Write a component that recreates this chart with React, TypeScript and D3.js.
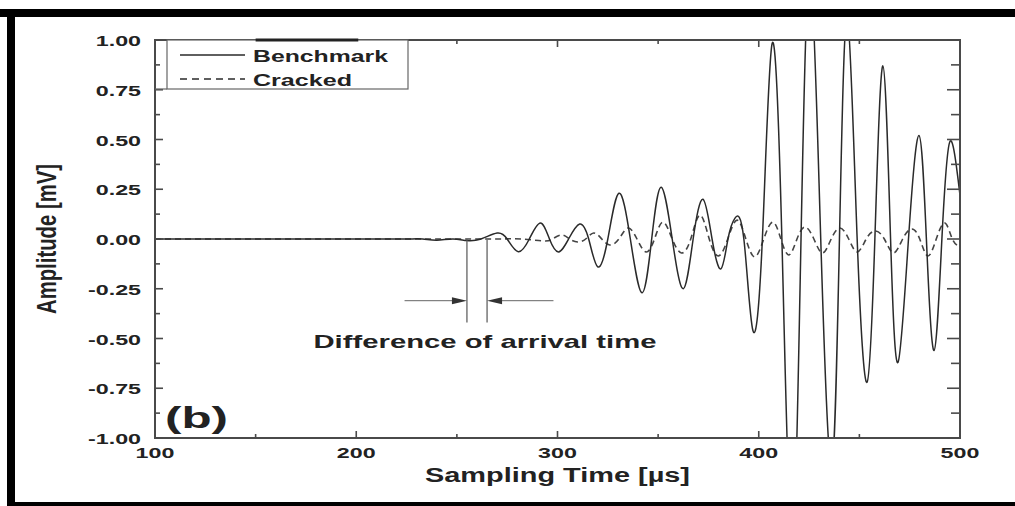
import React, { useEffect, useRef } from 'react'
import * as d3 from 'd3'

// axis ticks
const xTicks = [100, 200, 300, 400, 500]
const xMinor = [150, 250, 350, 450]
const yTicks = [1, 0.75, 0.5, 0.25, 0, -0.25, -0.5, -0.75, -1]
const yLabels = ['1.00', '0.75', '0.50', '0.25', '0.00', '-0.25', '-0.50', '-0.75', '-1.00']
const yMinor = [0.875, 0.625, 0.375, 0.125, -0.125, -0.375, -0.625, -0.875]

// Benchmark signal: extrema and zero crossings (µs, mV)
const benchTime = [100, 130, 160, 190, 210, 225, 233, 240, 248, 255, 262, 270, 275, 280.5, 286, 291.5, 296,
  300.5, 305.5, 311, 315.5, 320, 325, 330.5, 336.2, 342, 346.8, 351.5, 357, 362.5, 367.4, 372.3, 376.8,
  381.2, 384.7, 388.2, 392.6, 397.1, 401.8, 406.6, 411.5, 416.5, 421, 425.5, 430.8, 436.2, 440.1, 444,
  448.9, 453.8, 457.7, 461.7, 465.5, 469.2, 474.4, 479.6, 483.3, 487.1, 491, 495, 500]
const benchAmp = [0, 0, 0, 0, 0, 0, 0, -0.006, 0, -0.008, 0, 0.03, 0, -0.064, 0, 0.08, 0,
  -0.065, 0, 0.075, 0, -0.14, 0, 0.23, 0, -0.27, 0, 0.26, 0, -0.25, 0, 0.2, 0,
  -0.15, 0, 0.105, 0, -0.46, 0, 0.98, 0, -1.55, 0, 1.35, 0, -1.15, 0, 1.12,
  0, -0.72, 0, 0.87, 0, -0.62, 0, 0.52, 0, -0.56, 0, 0.49, 0.22]

// Cracked signal
const crackTime = [100, 130, 160, 190, 220, 250, 270, 282, 293, 297.5, 302, 306, 310, 314, 318, 322, 326,
  330.5, 335, 339.5, 344, 348.2, 352.4, 357, 361.6, 366.2, 370.8, 375.4, 380, 384.6, 389.2, 393.6, 398,
  402.5, 407, 411, 415, 419, 423, 427.4, 431.7, 436, 440.4, 444.7, 449, 453.4, 457.8, 462.4, 467, 471.5,
  476, 480, 484, 488.2, 492.5, 496.2, 500]
const crackAmp = [0, 0, 0, 0, 0, 0, 0, 0, -0.01, 0, 0.02, 0, -0.015, 0, 0.03, 0, -0.03,
  0, 0.055, 0, -0.065, 0, 0.085, 0, -0.07, 0, 0.12, 0, -0.085, 0, 0.095, 0, -0.09,
  0, 0.085, 0, -0.08, 0, 0.06, 0, -0.07, 0, 0.055, 0, -0.065, 0, 0.04, 0, -0.07, 0,
  0.05, 0, -0.085, 0, 0.08, 0, -0.04]

const seriesNames = ['Benchmark', 'Cracked']
const arrivalTimes = [255, 265]
const arrowLevel = -0.31
const markerBottom = -0.42

const W = 1015
const H = 506
const FONT = "'Liberation Sans', Arial, sans-serif"
const INK = '#222'
const AXIS = '#4a4a4a'
const SX = 1.5 // picture is stretched horizontally

export default function App() {
  const ref = useRef<SVGSVGElement>(null)

  useEffect(() => {
    document.body.style.margin = '0'
    const svg = d3.select(ref.current)
    svg.selectAll('*').remove()

    const left = 155, right = 960, top = 40, bottom = 438
    const x = d3.scaleLinear().domain([100, 500]).range([left, right])
    const y = d3.scaleLinear().domain([-1, 1]).range([bottom, top])

    // black frame bits
    svg.append('rect').attr('x', 0).attr('y', 9).attr('width', W).attr('height', 8).attr('fill', '#000')
    svg.append('rect').attr('x', 7).attr('y', 9).attr('width', 8).attr('height', H - 9).attr('fill', '#000')
    svg.append('rect').attr('x', 7).attr('y', 502).attr('width', W).attr('height', 4).attr('fill', '#000')

    svg.append('clipPath').attr('id', 'plotclip')
      .append('rect').attr('x', left).attr('y', top).attr('width', right - left).attr('height', bottom - top)

    const bench = benchTime.map((t, i) => ({ t, v: benchAmp[i] }))
    const crack = crackTime.map((t, i) => ({ t, v: crackAmp[i] }))

    const line = d3.line<{ t: number; v: number }>()
      .x((d) => x(d.t))
      .y((d) => y(d.v))
      .curve(d3.curveNatural)

    const g = svg.append('g').attr('clip-path', 'url(#plotclip)')
    g.append('path').datum(crack).attr('d', line)
      .attr('fill', 'none').attr('stroke', '#444').attr('stroke-width', 1.6)
      .attr('stroke-dasharray', '6,4')
    g.append('path').datum(bench).attr('d', line)
      .attr('fill', 'none').attr('stroke', '#2a2a2a').attr('stroke-width', 1.5)

    // arrival time markers
    arrivalTimes.forEach((t) => {
      svg.append('line').attr('x1', x(t)).attr('x2', x(t))
        .attr('y1', y(-0.005)).attr('y2', y(markerBottom))
        .attr('stroke', '#555').attr('stroke-width', 1.2)
    })
    const ay = y(arrowLevel)
    const tipL = x(arrivalTimes[0]), tipR = x(arrivalTimes[1])
    svg.append('line').attr('x1', x(224)).attr('x2', tipL - 12).attr('y1', ay).attr('y2', ay)
      .attr('stroke', '#666').attr('stroke-width', 1)
    svg.append('line').attr('x1', x(298)).attr('x2', tipR + 12).attr('y1', ay).attr('y2', ay)
      .attr('stroke', '#666').attr('stroke-width', 1)
    svg.append('path')
      .attr('d', `M${tipL},${ay} L${tipL - 15},${ay - 3.5} L${tipL - 15},${ay + 3.5} Z`)
      .attr('fill', '#333')
    svg.append('path')
      .attr('d', `M${tipR},${ay} L${tipR + 15},${ay - 3.5} L${tipR + 15},${ay + 3.5} Z`)
      .attr('fill', '#333')

    // frame
    svg.append('rect').attr('x', left).attr('y', top).attr('width', right - left).attr('height', bottom - top)
      .attr('fill', 'none').attr('stroke', AXIS).attr('stroke-width', 2)

    const ticks = svg.append('g').attr('stroke', AXIS).attr('stroke-width', 1.6)
    xTicks.forEach((t) => {
      ticks.append('line').attr('x1', x(t)).attr('x2', x(t)).attr('y1', bottom).attr('y2', bottom - 7)
      ticks.append('line').attr('x1', x(t)).attr('x2', x(t)).attr('y1', top).attr('y2', top + 7)
    })
    xMinor.forEach((t) => {
      ticks.append('line').attr('x1', x(t)).attr('x2', x(t)).attr('y1', bottom).attr('y2', bottom - 4)
      ticks.append('line').attr('x1', x(t)).attr('x2', x(t)).attr('y1', top).attr('y2', top + 4)
    })
    yTicks.forEach((v) => {
      ticks.append('line').attr('x1', left).attr('x2', left + 8).attr('y1', y(v)).attr('y2', y(v))
      ticks.append('line').attr('x1', right).attr('x2', right - 13).attr('y1', y(v)).attr('y2', y(v))
    })
    yMinor.forEach((v) => {
      ticks.append('line').attr('x1', left).attr('x2', left + 5).attr('y1', y(v)).attr('y2', y(v))
      ticks.append('line').attr('x1', right).attr('x2', right - 9).attr('y1', y(v)).attr('y2', y(v))
    })

    const txt = (str: string, tx: number, ty: number, size: number, anchor: string) =>
      svg.append('text').text(str)
        .attr('transform', `translate(${tx},${ty}) scale(${SX},1)`)
        .attr('text-anchor', anchor)
        .attr('font-family', FONT).attr('font-weight', 'bold')
        .attr('font-size', size).attr('fill', INK)

    yTicks.forEach((v, i) => txt(yLabels[i], 141, y(v) + 6, 15.5, 'end'))
    xTicks.forEach((t) => txt(String(t), x(t), 458, 15.5, 'middle'))

    const fit = (str: string, tx: number, ty: number, size: number, len: number, anchor: string) =>
      svg.append('text').text(str)
        .attr('x', tx).attr('y', ty)
        .attr('text-anchor', anchor)
        .attr('textLength', len).attr('lengthAdjust', 'spacingAndGlyphs')
        .attr('font-family', FONT).attr('font-weight', 'bold')
        .attr('font-size', size).attr('fill', INK)

    fit('Sampling Time [µs]', (left + right) / 2, 482, 19.5, 265, 'middle')
    fit('Difference of arrival time', 485, 348, 19, 343, 'middle')
    fit('(b)', 165, 428, 30, 63, 'start')

    svg.append('text').text('Amplitude [mV]')
      .attr('transform', `translate(56,${(top + bottom) / 2}) scale(${SX},1) rotate(-90)`)
      .attr('text-anchor', 'middle')
      .attr('textLength', 150).attr('lengthAdjust', 'spacingAndGlyphs')
      .attr('font-family', FONT).attr('font-weight', 'bold')
      .attr('font-size', 18).attr('fill', INK)

    // legend
    svg.append('rect').attr('x', 167).attr('y', top).attr('width', 241).attr('height', 49)
      .attr('fill', '#fff').attr('stroke', '#666').attr('stroke-width', 1.2)
    svg.append('line').attr('x1', left).attr('x2', 167).attr('y1', top + 49).attr('y2', top + 49)
      .attr('stroke', '#666').attr('stroke-width', 1.2)
    svg.append('line').attr('x1', x(150)).attr('x2', x(201)).attr('y1', top).attr('y2', top)
      .attr('stroke', '#222').attr('stroke-width', 3)
    seriesNames.forEach((name, i) => {
      const ly = 55 + i * 24
      svg.append('line').attr('x1', 180).attr('x2', 245).attr('y1', ly).attr('y2', ly)
        .attr('stroke', '#2a2a2a').attr('stroke-width', 1.4)
        .attr('stroke-dasharray', i === 1 ? '7,5' : null)
      fit(name, 253, ly + 7, 16.5, i === 0 ? 135 : 99, 'start')
    })
  }, [])

  return (
    <svg ref={ref} width={W} height={H} style={{ position: 'absolute', left: 0, top: 0, background: '#fff' }} />
  )
}
